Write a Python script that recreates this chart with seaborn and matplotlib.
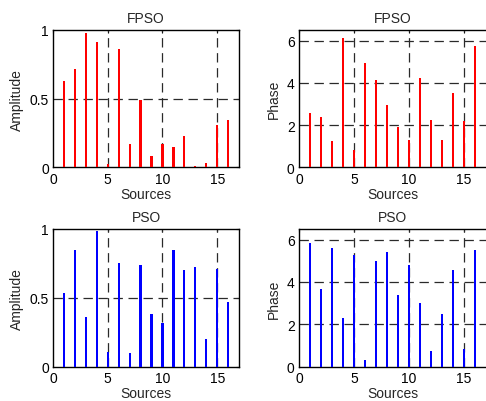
import numpy as np
import pandas as pd
import matplotlib
matplotlib.use("Agg")
import matplotlib.pyplot as plt
import seaborn as sns

sources = list(range(1, 17))

fpso_amplitude = [0.629, 0.717, 0.98, 0.915, 0.024, 0.863, 0.168, 0.49,
                  0.08, 0.168, 0.146, 0.229, 0.01, 0.029, 0.307, 0.344]
fpso_phase = [2.59, 2.37, 1.27, 6.13, 0.82, 4.95, 4.12, 2.94,
              1.90, 1.32, 4.21, 2.26, 1.32, 3.53, 2.21, 5.75]
pso_amplitude = [0.533, 0.847, 0.361, 0.985, 0.104, 0.753, 0.099, 0.738,
                 0.383, 0.315, 0.847, 0.702, 0.722, 0.201, 0.712, 0.467]
pso_phase = [5.84, 3.68, 5.61, 2.29, 5.25, 0.34, 4.97, 5.39,
             3.40, 4.78, 3.02, 0.74, 2.48, 4.57, 0.83, 5.51]

x_ticks = [0, 5, 10, 15]
amp_ticks = [0, 0.5, 1]
amp_tick_labels = ["0", "0.5", "1"]
phase_ticks = [0, 2, 4, 6]

sns.set_style("white")
plt.rcParams["font.family"] = ["Liberation Sans", "DejaVu Sans"]
plt.rcParams["font.size"] = 10

fig = plt.figure(figsize=(4.86, 4.02), dpi=100)

panels = [
    # (left, bottom, width, height), values, colour, title, ylabel, yticks, yticklabels, ylim, right column
    ((0.109, 0.581, 0.383, 0.342), fpso_amplitude, "#ff0000", "FPSO", "Amplitude",
     amp_ticks, amp_tick_labels, (0, 1), False),
    ((0.615, 0.581, 0.385, 0.342), fpso_phase, "#ff0000", "FPSO", "Phase",
     phase_ticks, [str(t) for t in phase_ticks], (0, 6.5), True),
    ((0.109, 0.085, 0.383, 0.343), pso_amplitude, "#0000ff", "PSO", "Amplitude",
     amp_ticks, amp_tick_labels, (0, 1), False),
    ((0.615, 0.085, 0.385, 0.343), pso_phase, "#0000ff", "PSO", "Phase",
     phase_ticks, [str(t) for t in phase_ticks], (0, 6.5), True),
]

for rect, values, colour, title, ylabel, yticks, ytl, ylim, at_edge in panels:
    ax = fig.add_axes(rect)
    df = pd.DataFrame({"Sources": sources, "value": values})
    sns.barplot(data=df, x="Sources", y="value", native_scale=True,
                color=colour, saturation=1, width=0.2, linewidth=0, ax=ax,
                zorder=3)
    ax.set_xlim(0, 17)
    ax.set_ylim(*ylim)
    ax.set_xticks(x_ticks)
    ax.set_xticklabels([str(t) for t in x_ticks])
    ax.set_yticks(yticks)
    ax.set_yticklabels(ytl)
    ax.set_title(title, fontsize=10, pad=6)
    ax.set_xlabel("Sources", fontsize=10, labelpad=1)
    ax.set_ylabel(ylabel, fontsize=10, labelpad=4)
    # dashed grid at interior ticks
    for xv in x_ticks[1:]:
        ax.axvline(xv, color="#2a2a2a", linestyle=(0, (7.5, 4.5)), linewidth=0.9, zorder=1)
    for yv in yticks[1:]:
        if yv < ylim[1]:
            ax.axhline(yv, color="#2a2a2a", linestyle=(0, (7.5, 4.5)), linewidth=0.9, zorder=1)
    ax.tick_params(direction="in", length=2.5, width=0.8, colors="black",
                   labelsize=10, pad=3, top=True, right=not at_edge)
    for s in ax.spines.values():
        s.set_color("black")
        s.set_linewidth(1.0)
        s.set_visible(True)
    if at_edge:
        # the frame's right edge falls at the figure border
        ax.spines["right"].set_visible(False)

fig.savefig("out.png", dpi=100)
